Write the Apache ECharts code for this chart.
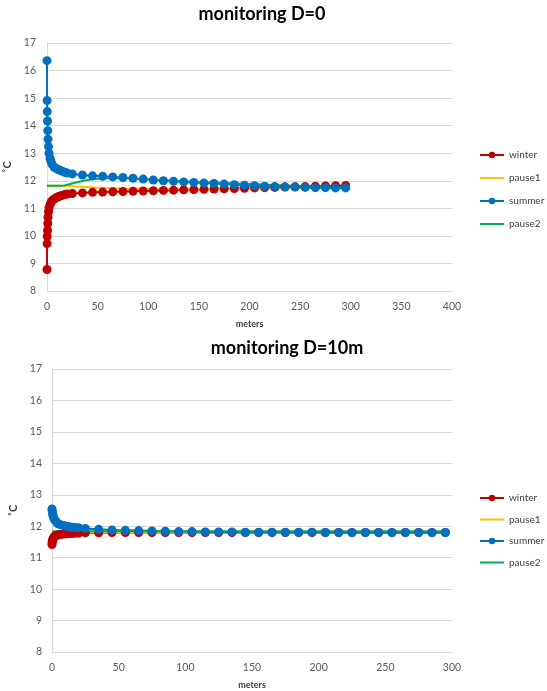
<!DOCTYPE html>
<html>
<head>
<meta charset="utf-8">
<script src="https://cdn.jsdelivr.net/npm/echarts@6/dist/echarts.min.js"></script>
<style>
html,body{margin:0;padding:0;background:#fff;}
#chart{width:547px;height:691px;}
</style>
</head>
<body>
<div id="chart"></div>
<script>
// ---- data ----
const distances = [0, 0.1, 0.25, 0.5, 0.75, 1, 1.5, 2, 3, 4, 5, 7, 9, 11, 13, 15, 17.5, 20,
  25, 35, 45, 55, 65, 75, 85, 95, 105, 115, 125, 135, 145, 155, 165, 175, 185, 195,
  205, 215, 225, 235, 245, 255, 265, 275, 285, 295];

// Top chart: monitoring D=0
const winterD0 = [8.78, 9.72, 9.98, 10.2, 10.45, 10.68, 10.88, 11.02, 11.13, 11.22, 11.28, 11.34, 11.38, 11.42, 11.45, 11.47, 11.5, 11.52,
  11.54, 11.56, 11.58, 11.59, 11.6, 11.61, 11.62, 11.63, 11.64, 11.65, 11.66, 11.67, 11.68, 11.69, 11.7, 11.71, 11.72, 11.73,
  11.74, 11.75, 11.76, 11.77, 11.78, 11.79, 11.8, 11.81, 11.82, 11.83];
const summerD0 = [16.36, 14.91, 14.51, 14.17, 13.82, 13.51, 13.24, 13.0, 12.82, 12.7, 12.6, 12.5, 12.45, 12.41, 12.38, 12.35, 12.31, 12.28,
  12.25, 12.21, 12.18, 12.16, 12.14, 12.12, 12.09, 12.06, 12.03, 12.0, 11.98, 11.96, 11.94, 11.92, 11.9, 11.88, 11.86, 11.84,
  11.82, 11.8, 11.79, 11.78, 11.77, 11.76, 11.75, 11.75, 11.74, 11.74];
const pause1D0X = [0, 15, 25, 50, 100, 150, 200, 250, 295];
const pause1D0 = [11.82, 11.82, 11.8, 11.75, 11.71, 11.7, 11.71, 11.73, 11.75];
const pause2D0X = [0, 15, 20, 30, 40, 50, 60, 75, 100, 150, 200, 250, 295];
const pause2D0 = [11.82, 11.82, 11.86, 11.95, 12.03, 12.07, 12.09, 12.09, 12.05, 11.96, 11.88, 11.81, 11.77];

// Bottom chart: monitoring D=10m
const winterD10 = [11.42, 11.48, 11.52, 11.56, 11.6, 11.62, 11.65, 11.68, 11.7, 11.72, 11.73, 11.74, 11.75, 11.76, 11.77, 11.77, 11.78, 11.78,
  11.79, 11.79, 11.8, 11.8, 11.8, 11.8, 11.8, 11.8, 11.8, 11.8, 11.8, 11.8, 11.8, 11.8, 11.8, 11.8, 11.8, 11.8,
  11.8, 11.8, 11.8, 11.8, 11.8, 11.8, 11.8, 11.8, 11.8, 11.8];
const summerD10 = [12.55, 12.5, 12.45, 12.4, 12.35, 12.3, 12.25, 12.2, 12.15, 12.1, 12.07, 12.04, 12.02, 12.0, 11.98, 11.97, 11.96, 11.95,
  11.93, 11.9, 11.88, 11.87, 11.86, 11.85, 11.84, 11.83, 11.83, 11.82, 11.82, 11.82, 11.81, 11.81, 11.81, 11.81, 11.81, 11.81,
  11.8, 11.8, 11.8, 11.8, 11.8, 11.8, 11.8, 11.8, 11.8, 11.8];
const pause1D10X = [0, 100, 200, 295];
const pause1D10 = [11.81, 11.81, 11.81, 11.81];
const pause2D10X = [0, 100, 200, 295];
const pause2D10 = [11.84, 11.84, 11.84, 11.84];

const seriesNames = ['winter', 'pause1', 'summer', 'pause2'];
const titles = ['monitoring D=0', 'monitoring D=10m'];
const xTickMax = [400, 300];

// ---- build ----
const colors = { winter: '#C00000', pause1: '#FFC000', summer: '#0070C0', pause2: '#00B050' };
const pairs = (xs, ys) => xs.map((x, i) => [x, ys[i]]);
const FONT = 'Lato, "Open Sans", sans-serif';
const plainLineIcon = 'path://M0,0 L24,0 L24,2 L0,2 Z';

function markerSeries(name, idx, xs, ys) {
  return {
    name, type: 'line', xAxisIndex: idx, yAxisIndex: idx,
    data: pairs(xs, ys), symbol: 'circle', symbolSize: 9,
    lineStyle: { width: 2, color: colors[name] },
    itemStyle: { color: colors[name] },
    animation: false
  };
}
function smoothSeries(name, idx, xs, ys) {
  return {
    name, type: 'line', xAxisIndex: idx, yAxisIndex: idx,
    data: pairs(xs, ys), symbol: 'none', smooth: 0.4,
    lineStyle: { width: 2, color: colors[name] },
    itemStyle: { color: colors[name] },
    animation: false
  };
}

const grids = [
  { left: 47, top: 43, width: 405, height: 248, outerBoundsMode: 'none', containLabel: false },
  { left: 52, top: 369, width: 400, height: 283, outerBoundsMode: 'none', containLabel: false }
];

const axisLabel = { color: '#595959', fontSize: 10.5, fontFamily: FONT };
const xAxes = grids.map((g, i) => ({
  type: 'value', gridIndex: i, min: 0, max: xTickMax[i], interval: 50,
  axisLine: { show: true, lineStyle: { color: '#d9d9d9' } },
  axisTick: { show: false },
  splitLine: { show: false },
  axisLabel: Object.assign({ margin: 10 }, axisLabel),
  name: 'meters', nameLocation: 'middle', nameGap: 29,
  nameTextStyle: { color: '#404040', fontSize: 9, fontWeight: 'bold', fontFamily: FONT }
}));
const yAxes = grids.map((g, i) => ({
  type: 'value', gridIndex: i, min: 8, max: 17, interval: 1,
  axisLine: { show: true, lineStyle: { color: '#d9d9d9' } },
  axisTick: { show: false },
  splitLine: { show: true, lineStyle: { color: '#d9d9d9', width: 1 } },
  axisLabel: Object.assign({ margin: i === 0 ? 11 : 10 }, axisLabel),
  name: '˚C', nameLocation: 'middle', nameGap: i === 0 ? 30 : 31,
  nameTextStyle: { color: '#404040', fontSize: 11, fontWeight: 'bold', fontFamily: FONT }
}));

const legendData = seriesNames.map(n =>
  (n === 'pause1' || n === 'pause2') ? { name: n, icon: plainLineIcon } : { name: n });

const legendBase = {
  orient: 'vertical', left: 479, itemWidth: 24, itemHeight: 8, padding: 0,
  data: legendData,
  textStyle: { color: '#404040', fontSize: 10, fontFamily: FONT, lineHeight: 12 }
};

const option = {
  backgroundColor: '#fff',
  animation: false,
  title: [
    { text: titles[0], left: 262, top: 5, padding: 0, textAlign: 'center',
      textStyle: { fontSize: 18, fontWeight: 'bold', color: '#000', fontFamily: FONT } },
    { text: titles[1], left: 287, top: 339, padding: 0, textAlign: 'center',
      textStyle: { fontSize: 18, fontWeight: 'bold', color: '#000', fontFamily: FONT } }
  ],
  legend: [
    Object.assign({ top: 149, itemGap: 11 }, legendBase),
    Object.assign({ top: 492, itemGap: 9.5 }, legendBase)
  ],
  grid: grids,
  xAxis: xAxes,
  yAxis: yAxes,
  series: [
    markerSeries('winter', 0, distances, winterD0),
    smoothSeries('pause1', 0, pause1D0X, pause1D0),
    markerSeries('summer', 0, distances, summerD0),
    smoothSeries('pause2', 0, pause2D0X, pause2D0),
    markerSeries('winter', 1, distances, winterD10),
    smoothSeries('pause1', 1, pause1D10X, pause1D10),
    markerSeries('summer', 1, distances, summerD10),
    smoothSeries('pause2', 1, pause2D10X, pause2D10)
  ]
};

const chart = echarts.init(document.getElementById('chart'), null, { renderer: 'canvas' });
chart.setOption(option);
</script>
</body>
</html>
